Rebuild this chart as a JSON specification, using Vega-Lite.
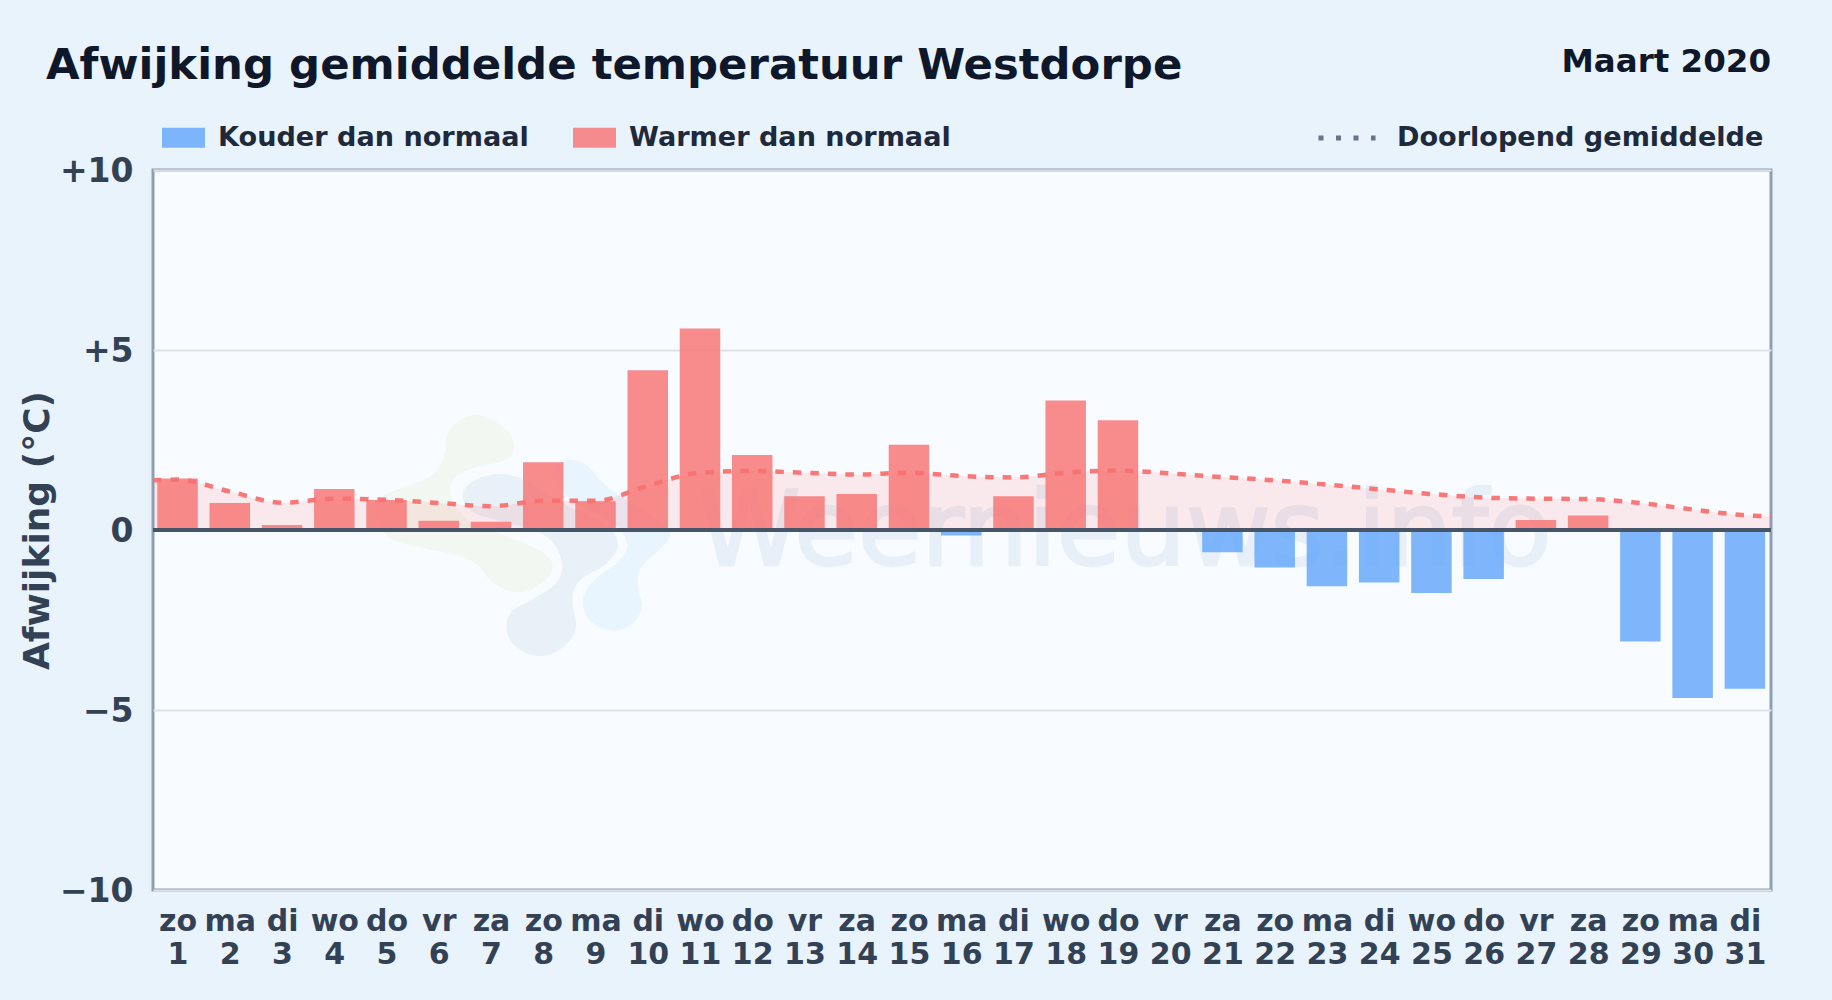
{
"$schema":"https://vega.github.io/schema/vega-lite/v6.json",
"autosize":"none",
"width":1618,"height":720,
"padding":{"left":153,"top":170,"right":61,"bottom":110},
"background":"#e9f3fc",
"title":{"text":"Afwijking gemiddelde temperatuur Westdorpe","anchor":"start","frame":"group","dx":-107,"offset":-42,"font":"DejaVu Sans","fontSize":43.4,"fontWeight":"bold","color":"#0f172a"},
"config":{"font":"DejaVu Sans","view":{"fill":"#f8fbff","stroke":"#8e9eb3","strokeWidth":3}},
"datasets":{
"bars":[
{"day":1,"dev":1.43,"kind":"Warmer dan normaal"},{"day":2,"dev":0.75,"kind":"Warmer dan normaal"},{"day":3,"dev":0.14,"kind":"Warmer dan normaal"},{"day":4,"dev":1.14,"kind":"Warmer dan normaal"},{"day":5,"dev":0.83,"kind":"Warmer dan normaal"},{"day":6,"dev":0.26,"kind":"Warmer dan normaal"},{"day":7,"dev":0.23,"kind":"Warmer dan normaal"},{"day":8,"dev":1.88,"kind":"Warmer dan normaal"},{"day":9,"dev":0.8,"kind":"Warmer dan normaal"},{"day":10,"dev":4.44,"kind":"Warmer dan normaal"},{"day":11,"dev":5.6,"kind":"Warmer dan normaal"},{"day":12,"dev":2.08,"kind":"Warmer dan normaal"},{"day":13,"dev":0.94,"kind":"Warmer dan normaal"},{"day":14,"dev":1.0,"kind":"Warmer dan normaal"},{"day":15,"dev":2.37,"kind":"Warmer dan normaal"},{"day":16,"dev":-0.15,"kind":"Kouder dan normaal"},{"day":17,"dev":0.94,"kind":"Warmer dan normaal"},{"day":18,"dev":3.6,"kind":"Warmer dan normaal"},{"day":19,"dev":3.05,"kind":"Warmer dan normaal"},{"day":20,"dev":0,"kind":"Warmer dan normaal"},{"day":21,"dev":-0.62,"kind":"Kouder dan normaal"},{"day":22,"dev":-1.04,"kind":"Kouder dan normaal"},{"day":23,"dev":-1.56,"kind":"Kouder dan normaal"},{"day":24,"dev":-1.46,"kind":"Kouder dan normaal"},{"day":25,"dev":-1.75,"kind":"Kouder dan normaal"},{"day":26,"dev":-1.36,"kind":"Kouder dan normaal"},{"day":27,"dev":0.28,"kind":"Warmer dan normaal"},{"day":28,"dev":0.4,"kind":"Warmer dan normaal"},{"day":29,"dev":-3.1,"kind":"Kouder dan normaal"},{"day":30,"dev":-4.67,"kind":"Kouder dan normaal"},{"day":31,"dev":-4.41,"kind":"Kouder dan normaal"}],
"avg":[
{"day":0.53,"avg":1.38},{"day":1,"avg":1.4},{"day":2,"avg":1.07},{"day":3,"avg":0.76},{"day":4,"avg":0.87},{"day":5,"avg":0.84},{"day":6,"avg":0.75},{"day":7,"avg":0.66},{"day":8,"avg":0.81},{"day":9,"avg":0.81},{"day":10,"avg":1.23},{"day":11,"avg":1.59},{"day":12,"avg":1.64},{"day":13,"avg":1.59},{"day":14,"avg":1.54},{"day":15,"avg":1.59},{"day":16,"avg":1.5},{"day":17,"avg":1.46},{"day":18,"avg":1.59},{"day":19,"avg":1.65},{"day":20,"avg":1.57},{"day":21,"avg":1.47},{"day":22,"avg":1.38},{"day":23,"avg":1.26},{"day":24,"avg":1.13},{"day":25,"avg":1.0},{"day":26,"avg":0.9},{"day":27,"avg":0.87},{"day":28,"avg":0.86},{"day":29,"avg":0.75},{"day":30,"avg":0.57},{"day":31,"avg":0.41},{"day":31.5,"avg":0.38}]
},
"layer":[
{"data":{"values":[{"day":7.746,"dev":0}]},"mark":{"type":"point","filled":true,"opacity":1,"size":0.48,"color":"#f2f8f1","shape":"M-197.5 -320 Q-150 -350 -95 -310 Q-40 -270 -45 -235 Q-50 -200 -115 -190 Q-180 -180 -212.5 -155 Q-245 -130 -217.5 -75 Q-190 -20 -135 -5 Q-80 10 -10 40 Q60 70 65 100 Q70 130 25 160 Q-20 190 -65 175 Q-110 160 -135 120 Q-160 80 -245 65 Q-330 50 -380 35 Q-430 20 -440 -35 Q-450 -90 -415 -105 Q-380 -120 -330 -135 Q-280 -150 -260 -185 Q-240 -220 -242.5 -255 Q-245 -290 -197.5 -320Z"},"encoding":{"x":{"field":"day","type":"quantitative"},"y":{"field":"dev","type":"quantitative"}}},
{"data":{"values":[{"day":7.746,"dev":0}]},"mark":{"type":"point","filled":true,"opacity":1,"size":0.48,"color":"#e8f4fe","shape":"M120 -202.5 Q160 -200 185 -165 Q210 -130 250 -105 Q290 -80 352.5 -40 Q415 0 402.5 22.5 Q390 45 350 77.5 Q310 110 310 140 Q310 170 321 202.5 Q332 235 296 268.5 Q260 302 215 286 Q170 270 157.5 235 Q145 200 165 170 Q185 140 225 115 Q265 90 277.5 60 Q290 30 255 -5 Q220 -40 170 -60 Q120 -80 90 -115 Q60 -150 70 -177.5 Q80 -205 120 -202.5Z"},"encoding":{"x":{"field":"day","type":"quantitative"},"y":{"field":"dev","type":"quantitative"}}},
{"data":{"values":[{"day":7.746,"dev":0}]},"mark":{"type":"point","filled":true,"opacity":1,"size":0.48,"color":"#e8f0f8","shape":"M-157.5 -144 Q-110 -168 -60 -159 Q-10 -150 35 -115 Q80 -80 150 -50 Q220 -20 242.5 10 Q265 40 242.5 72.5 Q220 105 180 122.5 Q140 140 127.5 170 Q115 200 130 250 Q145 300 92.5 340 Q40 380 -12.5 355 Q-65 330 -67.5 285 Q-70 240 -35 222.5 Q0 205 45 177.5 Q90 150 92.5 115 Q95 80 72.5 45 Q50 10 -5 -5 Q-60 -20 -120 -35 Q-180 -50 -192.5 -85 Q-205 -120 -157.5 -144Z"},"encoding":{"x":{"field":"day","type":"quantitative"},"y":{"field":"dev","type":"quantitative"}}},
{"data":{"values":[{"label":"Weernieuws.info","day":19.13,"dev":-0.97}]},"mark":{"type":"text","align":"center","baseline":"alphabetic","fontSize":103.5,"color":"#e7eff9","stroke":"#e7eff9","strokeWidth":2.5},"encoding":{"x":{"field":"day","type":"quantitative"},"y":{"field":"dev","type":"quantitative"},"text":{"field":"label"}}},
{"data":{"name":"avg"},"mark":{"type":"area","interpolate":"monotone","color":"#ff6b6b","opacity":0.13},"encoding":{"x":{"field":"day","type":"quantitative"},"y":{"field":"avg","type":"quantitative"}}},
{"data":{"name":"bars"},"mark":{"type":"bar","orient":"vertical","size":40.5,"opacity":0.8},"encoding":{
"x":{"field":"day","type":"quantitative","scale":{"domain":[0.53,31.5],"nice":false,"zero":false,"padding":0},
"axis":{"title":null,"values":[1,2,3,4,5,6,7,8,9,10,11,12,13,14,15,16,17,18,19,20,21,22,23,24,25,26,27,28,29,30,31],"grid":false,"domain":false,"ticks":false,"labelFontSize":30,"labelFontWeight":"bold","labelColor":"#334155","labelPadding":16.5,"labelLineHeight":33,"labelOverlap":false,"labelBound":false,"labelFlush":false,"labelAngle":0,"labelExpr":"[['zo','ma','di','wo','do','vr','za'][(datum.value-1)%7], datum.label]"}},
"y":{"field":"dev","type":"quantitative","stack":null,"scale":{"domain":[-10,10],"nice":false},
"axis":{"title":"Afwijking (°C)","titleFontSize":36,"titleFontWeight":"bold","titleColor":"#334155","titleX":-97,"titleY":360,"values":[-10,-5,0,5,10],"gridColor":"#dde3e6","gridWidth":2,"domain":false,"ticks":false,"labelFontSize":33,"labelFontWeight":"bold","labelColor":"#334155","labelPadding":20,"labelOffset":1.5,"labelFlush":false,"labelBound":false,"labelOverlap":false,"labelExpr":"datum.value>0?'+'+datum.label:datum.label"}},
"color":{"field":"kind","type":"nominal","scale":{"domain":["Kouder dan normaal","Warmer dan normaal"],"range":["#60a5fa","#f87171"]},
"legend":{"orient":"none","legendX":9,"legendY":-54,"direction":"horizontal","title":null,"symbolType":"M-1 -0.465H1V0.465H-1Z","symbolSize":1849,"symbolOpacity":0.8,"symbolStrokeWidth":0,"labelFontSize":27.1,"labelFontWeight":"bold","labelColor":"#1e293b","labelOffset":13,"labelLimit":600,"columnPadding":44}}
}},
{"data":{"name":"avg"},"mark":{"type":"line","interpolate":"monotone","color":"#64748b","strokeWidth":4,"opacity":0},"encoding":{
"x":{"field":"day","type":"quantitative"},
"y":{"field":"avg","type":"quantitative"},
"strokeDash":{"datum":"Doorlopend gemiddelde","type":"nominal","scale":{"range":[[5,12.5]]},
"legend":{"orient":"none","legendX":1163,"legendY":-63,"direction":"horizontal","title":null,"symbolType":"stroke","symbolSize":3249,"symbolStrokeWidth":5,"symbolOpacity":1,"labelFontSize":27.1,"labelFontWeight":"bold","labelColor":"#1e293b","labelOffset":19,"labelLimit":600}}
}},
{"data":{"name":"avg"},"mark":{"type":"line","interpolate":"monotone","strokeWidth":4.5,"color":"#f87171","opacity":0.95,"strokeDash":[8.5,9]},"encoding":{
"x":{"field":"day","type":"quantitative"},
"y":{"field":"avg","type":"quantitative"}
}},
{"data":{"values":[{"dev":0}]},"mark":{"type":"rule","color":"#475569","strokeWidth":4},"encoding":{"y":{"field":"dev","type":"quantitative"}}},
{"data":{"values":[{"label":"Maart 2020","day":31.5,"dev":13.0}]},"mark":{"type":"text","align":"right","baseline":"middle","fontSize":32.5,"fontWeight":"bold","color":"#0f172a"},"encoding":{"x":{"field":"day","type":"quantitative"},"y":{"field":"dev","type":"quantitative"},"text":{"field":"label"}}}
]
}
